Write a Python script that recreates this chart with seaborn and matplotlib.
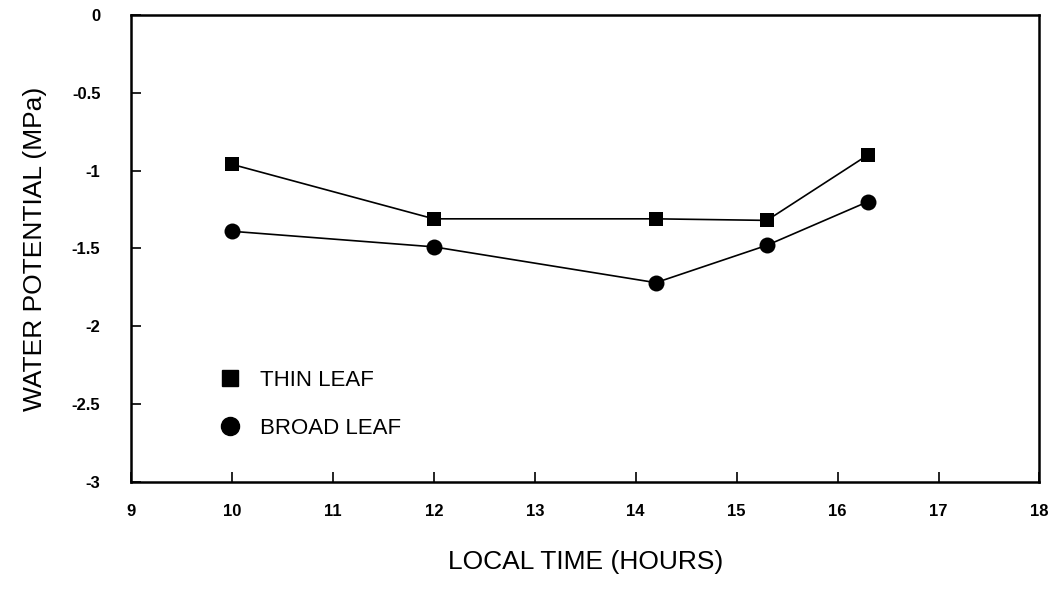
import pandas as pd
import matplotlib
matplotlib.use("Agg")
import matplotlib.pyplot as plt
from matplotlib.lines import Line2D
import seaborn as sns


# DATA

hours       = [10.0, 12.0, 14.2, 15.3, 16.3]
thin_leaf   = [-0.96, -1.31, -1.31, -1.32, -0.90]
broad_leaf  = [-1.39, -1.49, -1.72, -1.48, -1.20]
series_names = ["THIN LEAF", "BROAD LEAF"]

x_ticks = [9, 10, 11, 12, 13, 14, 15, 16, 17, 18]
y_ticks = [0, -0.5, -1, -1.5, -2, -2.5, -3]
y_tick_labels = ["0", "-0.5", "-1", "-1.5", "-2", "-2.5", "-3"]

df = pd.DataFrame({
    "hour": hours * 2,
    "psi": thin_leaf + broad_leaf,
    "leaf": [series_names[0]] * len(hours) + [series_names[1]] * len(hours),
})

sns.set_theme(style="white")
plt.rcParams["font.family"] = ["Liberation Sans", "DejaVu Sans"]
plt.rcParams["text.color"] = "black"

fig = plt.figure(figsize=(10.6, 5.95), dpi=100)
ax = fig.add_axes([0.1236, 0.19, 0.857, 0.785])

sns.lineplot(
    data=df, x="hour", y="psi", style="leaf",
    markers={"THIN LEAF": "s", "BROAD LEAF": "o"},
    dashes=False, color="black", linewidth=1.2,
    markersize=10, markeredgewidth=0, legend=False, ax=ax,
)
# circles look a bit bigger than the squares in the scan
ax.lines[1].set_markersize(11.5)

ax.set_xlim(9, 18)
ax.set_ylim(-3, 0)
ax.set_xticks(x_ticks)
ax.set_yticks(y_ticks)
ax.set_yticklabels(y_tick_labels)

for side in ["top", "right", "bottom", "left"]:
    ax.spines[side].set_visible(True)
    ax.spines[side].set_color("black")
    ax.spines[side].set_linewidth(1.8)

ax.tick_params(axis="x", direction="in", length=7, width=1.2, pad=16,
               bottom=True, top=False, labelsize=12, colors="black")
ax.tick_params(axis="y", direction="in", length=7, width=1.2, pad=22,
               left=True, right=False, labelsize=12, colors="black")
for lab in ax.get_xticklabels() + ax.get_yticklabels():
    lab.set_fontweight("bold")

ax.set_xlabel("LOCAL TIME (HOURS)", fontsize=19, labelpad=22, color="black")
ax.set_ylabel("WATER POTENTIAL (MPa)", fontsize=19, labelpad=18, color="black")

handles = [
    Line2D([], [], linestyle="none", marker="s", color="black", markersize=11),
    Line2D([], [], linestyle="none", marker="o", color="black", markersize=13),
]
leg = ax.legend(handles, series_names, loc="upper left", bbox_to_anchor=(0.084, 0.259),
                frameon=False, fontsize=16, handlelength=1.2, handletextpad=0.75,
                labelspacing=1.2, borderaxespad=0)
for t in leg.get_texts():
    t.set_color("black")

fig.savefig("out.png", dpi=100)
